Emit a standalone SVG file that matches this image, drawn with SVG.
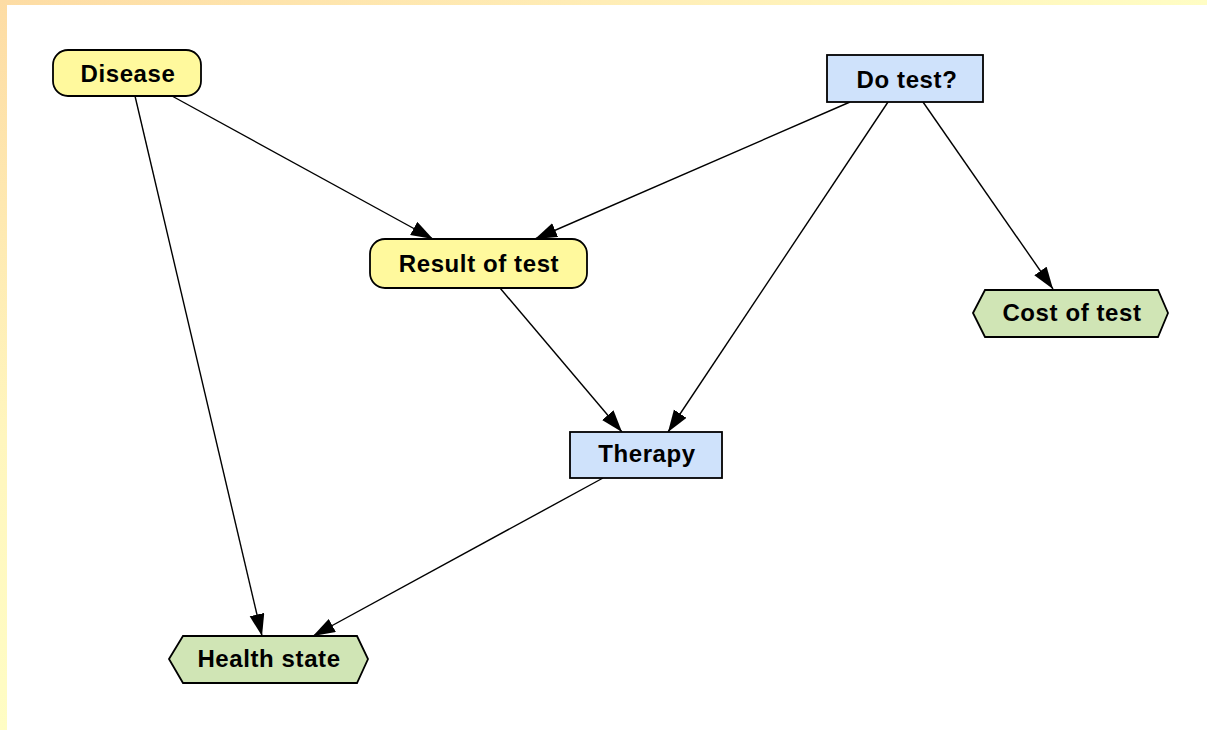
<svg xmlns="http://www.w3.org/2000/svg" width="1207" height="730" viewBox="0 0 1207 730">
<defs>
<linearGradient id="gTop" x1="0" y1="0" x2="1" y2="0">
<stop offset="0" stop-color="#FDDCA4"/>
<stop offset="0.5" stop-color="#FFEDB6"/>
<stop offset="1" stop-color="#FFFDC4"/>
</linearGradient>
<linearGradient id="gLeft" x1="0" y1="0" x2="0" y2="1">
<stop offset="0" stop-color="#FDDCA4"/>
<stop offset="0.6" stop-color="#FFF6BE"/>
<stop offset="1" stop-color="#FFFDC4"/>
</linearGradient>
<marker id="arr" markerUnits="userSpaceOnUse" markerWidth="24" markerHeight="17" viewBox="0 0 24 17" refX="22" refY="7.5" orient="auto">
<path d="M0,0 L22,7.5 L0,15 z" fill="#000"/>
</marker>
</defs>
<style>
.lbl{font-family:"Liberation Sans",Arial,sans-serif;font-weight:bold;font-size:24px;letter-spacing:0.6px;fill:#000;text-anchor:middle}
.yel{fill:#FFF99D;stroke:#000;stroke-width:1.8}
.blu{fill:#CFE2FB;stroke:#000;stroke-width:1.8}
.grn{fill:#D0E5B5;stroke:#000;stroke-width:1.8}
.edge{stroke:#000;stroke-width:1.4;fill:none;marker-end:url(#arr)}
</style>
<rect x="0" y="0" width="1207" height="730" fill="#FFFFFF"/>
<rect x="0" y="0" width="1207" height="5" fill="url(#gTop)"/>
<rect x="0" y="0" width="7" height="730" fill="url(#gLeft)"/>
<g id="connectors">
<line class="edge" x1="135" y1="96" x2="262" y2="636"/>
<line class="edge" x1="172" y1="96" x2="433" y2="239"/>
<line class="edge" x1="850" y1="102" x2="535" y2="239"/>
<line class="edge" x1="888" y1="102" x2="668" y2="432"/>
<line class="edge" x1="923" y1="102" x2="1053" y2="289"/>
<line class="edge" x1="500" y1="288" x2="622" y2="432"/>
<line class="edge" x1="603" y1="478" x2="313" y2="636"/>
</g>
<g id="disease">
<rect class="yel" x="53" y="50" width="148" height="46" rx="15" ry="15"/>
<text class="lbl" x="128" y="82">Disease</text>
</g>
<g id="do-test">
<rect class="blu" x="827" y="55" width="156" height="47"/>
<text class="lbl" x="907" y="88">Do test?</text>
</g>
<g id="result-of-test">
<rect class="yel" x="370" y="239" width="217" height="49" rx="15" ry="15"/>
<text class="lbl" x="479" y="272">Result of test</text>
</g>
<g id="cost-of-test">
<polygon class="grn" points="973,313 985,290 1158,290 1168,313 1158,337 985,337"/>
<text class="lbl" x="1072" y="321">Cost of test</text>
</g>
<g id="therapy">
<rect class="blu" x="570" y="432" width="152" height="46"/>
<text class="lbl" x="647" y="462">Therapy</text>
</g>
<g id="health-state">
<polygon class="grn" points="169,659 183,636 357,636 368,659 357,683 183,683"/>
<text class="lbl" x="269" y="667">Health state</text>
</g>
</svg>
